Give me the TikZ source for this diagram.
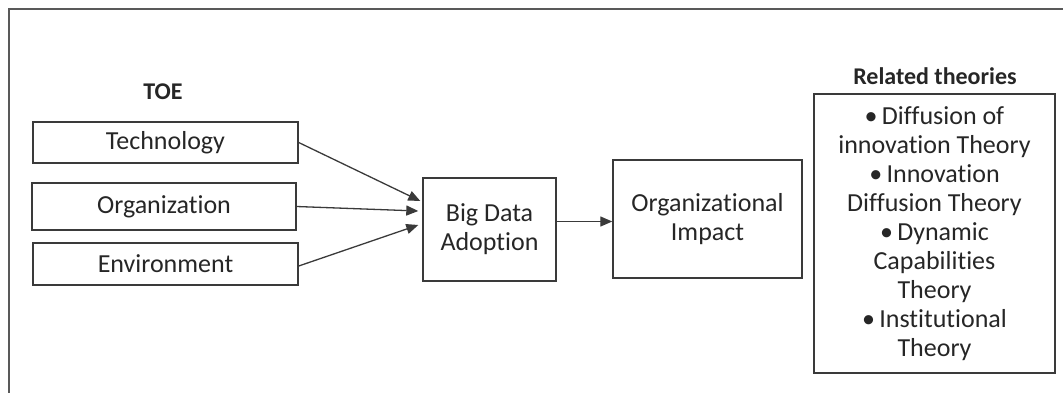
\documentclass[tikz,border=0pt]{standalone}
\usepackage{fontspec}
\setmainfont[Ligatures=NoCommon]{Carlito}
\usetikzlibrary{arrows.meta,calc}
\definecolor{txt}{HTML}{262626}
\definecolor{edge}{HTML}{3A3A3A}
\begin{document}
\begin{tikzpicture}[x=1pt,y=-1pt,
  box/.style={draw=edge,line width=1.4pt,text=txt,inner sep=0pt,align=center,
    font=\fontsize{26}{29}\selectfont},
  title/.style={text=txt,font=\fontsize{24}{28}\selectfont\bfseries,inner sep=0pt},
  conn/.style={draw=edge,line width=1.3pt,-{Triangle[length=12pt,width=10pt]}}]
\useasboundingbox (0,0) rectangle (1063,392);
\begin{scope}
\clip (0,0) rectangle (1063,392);
\draw[draw=gray!70!black,line width=1.8pt] (9,9) rectangle (1080,410);
\end{scope}
\node[title] (toe) at (163,92) {TOE};
\node[title] (rel) at (935,76) {Related theories};
\node[box,minimum width=265pt,minimum height=41pt] (tech) at (165.5,142.5) {Technology};
\node[box,minimum width=264pt,minimum height=47pt] (org) at (164,206.5) {Organization};
\node[box,minimum width=265pt,minimum height=42pt] (env) at (165.5,264) {Environment};
\node[box,minimum width=133pt,minimum height=103pt] (bd) at (489.5,229.5) {Big Data\\Adoption};
\node[box,minimum width=189pt,minimum height=118pt] (oi) at (707.5,219) {Organizational\\Impact};
\node[box,minimum width=241pt,minimum height=279pt] (rt) at (934.5,233.5)
  {\textbullet\,Diffusion of\\innovation Theory\\\textbullet\,Innovation\\Diffusion Theory\\\textbullet\,Dynamic\\Capabilities\\Theory\\\textbullet\,Institutional\\Theory};
\draw[conn] (tech.east) -- ([xshift=-2pt,yshift=28.5pt]bd.west);
\draw[conn] (org.east) -- ([xshift=-4pt,yshift=18.5pt]bd.west);
\draw[conn] ([yshift=-2pt]env.east) -- ([xshift=-4pt,yshift=4.5pt]bd.west);
\coordinate (bo) at ([yshift=8pt]bd.east);
\draw[conn] (bo) -- (bo -| oi.west);
\end{tikzpicture}
\end{document}
